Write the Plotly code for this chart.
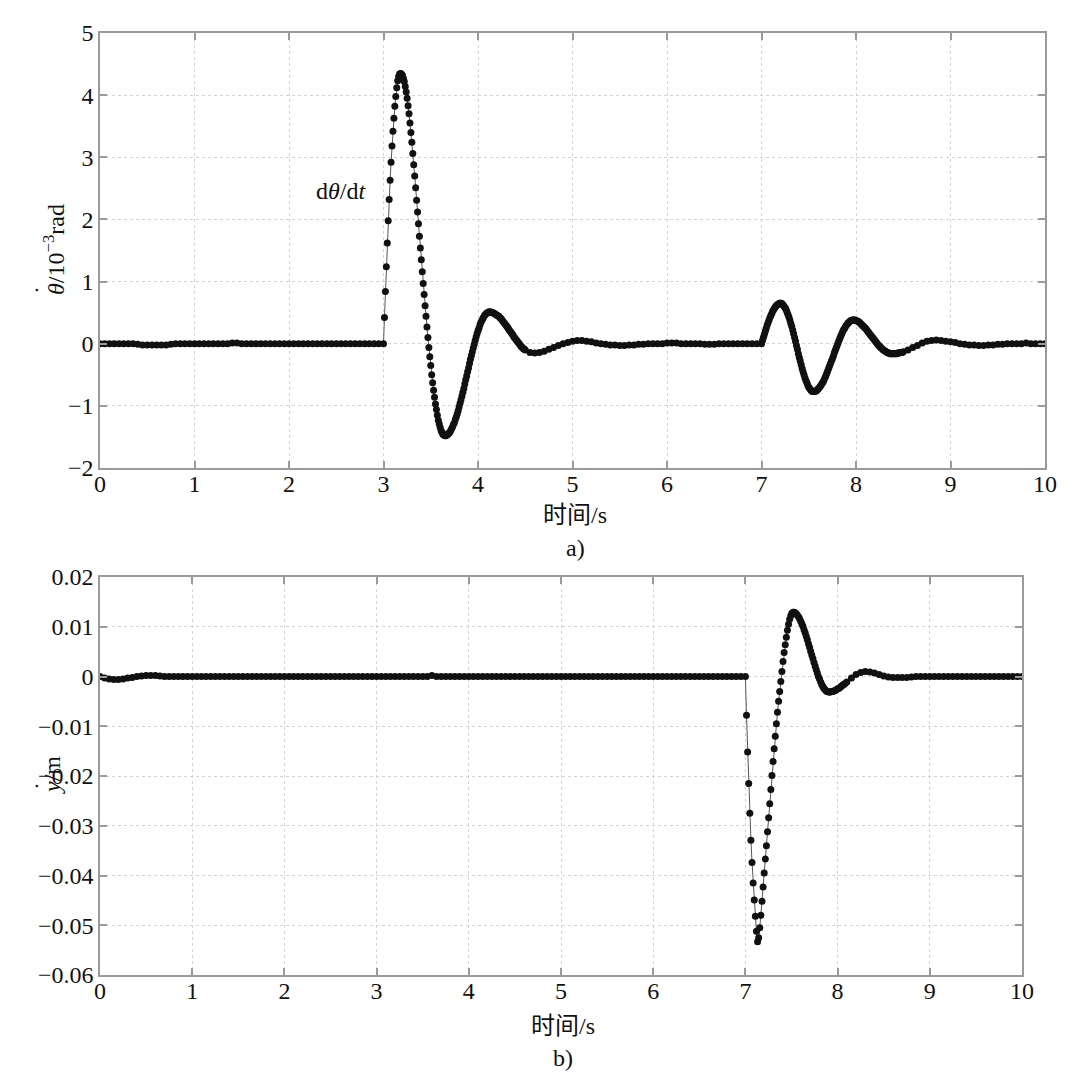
import plotly.graph_objects as go

# ---------------- data: theta_dot (10^-3 rad) ----------------
# each segment: (start time, step, values)
theta_flat1_t0, theta_flat1_dt = 0.00, 0.05
theta_flat1 = [0, 0, 0, 0, 0, 0, 0, 0, -0.01, -0.02,
               -0.02, -0.02, -0.02, -0.02, -0.02, -0.01, 0, 0, 0, 0,
               0, 0, 0, 0, 0, 0, 0, 0, 0.01, 0.01,
               0, 0, 0, 0, 0, 0, 0, 0, 0, 0,
               0, 0, 0, 0, 0, 0, 0, 0, 0, 0,
               0, 0, 0, 0, 0, 0, 0, 0, 0, 0]

theta_pulse1_t0, theta_pulse1_dt = 3.00, 0.01
theta_pulse1 = [0,
                0.42, 0.84, 1.24, 1.62, 1.98, 2.32, 2.63, 2.92, 3.18, 3.42,
                3.63, 3.82, 3.98, 4.12, 4.23, 4.30, 4.34, 4.35,
                4.34, 4.32, 4.27, 4.22, 4.14, 4.05, 3.95, 3.83, 3.70, 3.55,
                3.40, 3.24, 3.06, 2.88, 2.70, 2.51, 2.31, 2.12,
                1.93, 1.73, 1.54, 1.35, 1.16, 0.97, 0.79, 0.61, 0.44, 0.27,
                0.10, -0.06, -0.21, -0.35, -0.50, -0.63, -0.75, -0.86, -0.97, -1.06,
                -1.15, -1.23, -1.29, -1.35, -1.40, -1.43, -1.46, -1.47, -1.48,
                -1.48, -1.47, -1.46, -1.44, -1.43, -1.40, -1.37, -1.34, -1.30, -1.27,
                -1.22, -1.18, -1.13, -1.08, -1.02, -0.96, -0.90, -0.84, -0.78, -0.72,
                -0.65, -0.58, -0.52, -0.45, -0.39, -0.32, -0.25, -0.19, -0.13, -0.07,
                -0.01, 0.05, 0.11, 0.16, 0.21, 0.25, 0.30, 0.34, 0.37, 0.40,
                0.43, 0.46, 0.47, 0.49, 0.50, 0.51, 0.51,
                0.51, 0.51, 0.50, 0.50, 0.49, 0.48, 0.47, 0.46, 0.45, 0.44,
                0.42, 0.41, 0.39, 0.37, 0.35, 0.33, 0.31, 0.29, 0.27, 0.25,
                0.22, 0.20, 0.18, 0.16, 0.14, 0.11, 0.09, 0.07, 0.05, 0.03,
                0.01, -0.01, -0.03, -0.05, -0.06, -0.08, -0.09, -0.10]

theta_tail1_t0, theta_tail1_dt = 4.55, 0.05
theta_tail1 = [-0.14, -0.15, -0.14, -0.12, -0.09, -0.06, -0.03, 0.00, 0.02, 0.04,
               0.05, 0.05, 0.04, 0.03, 0.01, 0.00, -0.01, -0.02, -0.02, -0.03,
               -0.03, -0.02, -0.02, -0.01, -0.01, 0, 0, 0, 0, 0.01,
               0.01, 0.01, 0, 0, 0, 0, 0, -0.01, -0.01, -0.01,
               0, 0, 0, 0, 0, 0, 0, 0, 0]

theta_pulse2_t0, theta_pulse2_dt = 7.00, 0.01
theta_pulse2 = [0,
                0.05, 0.10, 0.15, 0.20, 0.25, 0.30, 0.34, 0.38, 0.42, 0.46,
                0.49, 0.53, 0.55, 0.58, 0.60, 0.62, 0.63, 0.64, 0.65, 0.65,
                0.65, 0.64, 0.62, 0.60, 0.58, 0.55, 0.51, 0.47, 0.43, 0.38,
                0.33, 0.28, 0.22, 0.16, 0.10, 0.04, -0.03, -0.09, -0.16, -0.22,
                -0.28, -0.34, -0.40, -0.45, -0.50, -0.55, -0.59, -0.63, -0.67, -0.70,
                -0.72, -0.74, -0.76, -0.77, -0.77,
                -0.77, -0.76, -0.76, -0.74, -0.73, -0.71, -0.69, -0.67, -0.64, -0.62,
                -0.59, -0.55, -0.52, -0.48, -0.44, -0.40, -0.36, -0.32, -0.28, -0.24,
                -0.20, -0.15, -0.11, -0.07, -0.03, 0.01, 0.05, 0.09, 0.13, 0.16,
                0.20, 0.23, 0.25, 0.28, 0.30, 0.32, 0.34, 0.35, 0.37, 0.37,
                0.38, 0.38,
                0.38, 0.38, 0.37, 0.37, 0.36, 0.35, 0.34, 0.32, 0.31, 0.29,
                0.28, 0.26, 0.25, 0.23, 0.21, 0.19, 0.17, 0.15, 0.13, 0.11,
                0.09, 0.07, 0.05, 0.03, 0.01, -0.01, -0.03, -0.04, -0.06, -0.07,
                -0.09, -0.10, -0.11, -0.12, -0.13, -0.14, -0.15, -0.15, -0.16, -0.16,
                -0.16, -0.16, -0.16,
                -0.16, -0.16, -0.16, -0.15, -0.15, -0.15, -0.14, -0.14, -0.14, -0.13]

theta_tail2_t0, theta_tail2_dt = 8.55, 0.05
theta_tail2 = [-0.10, -0.06, -0.03, 0.01, 0.04, 0.05, 0.06, 0.05, 0.04, 0.03,
               0.02, 0.00, -0.01, -0.02, -0.02, -0.03, -0.03, -0.02, -0.02, -0.01,
               -0.01, 0.00, 0.00, 0.00, 0.00, 0.01, 0.00, 0.00, 0.00, 0.00]

# ---------------- data: y_dot (m) ----------------
ydot_flat1_t0, ydot_flat1_dt = 0.00, 0.05
ydot_flat1 = [0, -0.0003, -0.0005, -0.0006, -0.0006, -0.0005, -0.0003, -0.0002, 0.0, 0.0001,
              0.0002, 0.0002, 0.0002, 0.0001, 0.0,
              0, 0, 0, 0, 0, 0, 0, 0, 0, 0, 0, 0, 0, 0, 0, 0, 0, 0, 0, 0, 0, 0, 0, 0, 0,
              0, 0, 0, 0, 0, 0, 0, 0, 0, 0, 0, 0, 0, 0, 0, 0, 0, 0, 0, 0, 0, 0, 0, 0, 0,
              0, 0, 0, 0, 0, 0, 0, 0.0002, 0, 0, 0, 0, 0, 0, 0, 0, 0, 0, 0, 0, 0, 0, 0, 0, 0,
              0, 0, 0, 0, 0, 0, 0, 0, 0, 0, 0, 0, 0, 0, 0, 0, 0, 0, 0, 0, 0, 0, 0, 0, 0,
              0, 0, 0, 0, 0, 0, 0, 0, 0, 0, 0, 0, 0, 0, 0, 0, 0, 0, 0, 0, 0, 0, 0, 0, 0]

ydot_pulse_t0, ydot_pulse_dt = 7.00, 0.012
ydot_pulse = [0, -0.0078, -0.0152, -0.0215, -0.0275, -0.0329, -0.0374, -0.0415, -0.0449, -0.0482,
              -0.0512, -0.0533,
              -0.0525, -0.0505, -0.0480, -0.0452, -0.0423, -0.0395, -0.0367, -0.0340, -0.0312, -0.0284,
              -0.0256, -0.0227, -0.0199, -0.0171, -0.0145, -0.0120, -0.0095, -0.0072, -0.0050, -0.0030,
              -0.0010, 0.0010, 0.0030, 0.0048, 0.0064, 0.0079, 0.0093, 0.0105, 0.0115, 0.0122,
              0.0127, 0.0129,
              0.0129, 0.0128, 0.0126, 0.0123, 0.0120, 0.0116, 0.0111, 0.0106, 0.0101, 0.0094,
              0.0088, 0.0081, 0.0074, 0.0066, 0.0059, 0.0051, 0.0043, 0.0036, 0.0028, 0.0021,
              0.0014, 0.0007, 0.0000, -0.0005, -0.0011, -0.0016, -0.0020, -0.0024, -0.0026, -0.0029,
              -0.0030, -0.0031,
              -0.0031, -0.0031, -0.0030, -0.0030, -0.0029, -0.0028, -0.0027, -0.0025, -0.0024, -0.0023,
              -0.0021, -0.0019, -0.0017, -0.0016, -0.0014]

ydot_tail_t0, ydot_tail_dt = 8.10, 0.05
ydot_tail = [-0.0011, -0.0003, 0.0004, 0.0008, 0.0010, 0.0009, 0.0007, 0.0004, 0.0001, -0.0001,
             -0.0002, -0.0002, -0.0002, -0.0002, -0.0001,
             0, 0, 0, 0, 0, 0, 0, 0, 0, 0, 0, 0, 0, 0, 0, 0, 0, 0, 0, 0, 0, 0, 0, 0]

x_ticks = [0, 1, 2, 3, 4, 5, 6, 7, 8, 9, 10]
theta_ticks = [-2, -1, 0, 1, 2, 3, 4, 5]
ydot_ticks = [-0.06, -0.05, -0.04, -0.03, -0.02, -0.01, 0, 0.01, 0.02]


def build(segments):
    ts, vs = [], []
    for t0, dt, vals in segments:
        for i, v in enumerate(vals):
            ts.append(round(t0 + i * dt, 4))
            vs.append(v)
    return ts, vs


t_theta, v_theta = build([
    (theta_flat1_t0, theta_flat1_dt, theta_flat1),
    (theta_pulse1_t0, theta_pulse1_dt, theta_pulse1),
    (theta_tail1_t0, theta_tail1_dt, theta_tail1),
    (theta_pulse2_t0, theta_pulse2_dt, theta_pulse2),
    (theta_tail2_t0, theta_tail2_dt, theta_tail2),
])
t_ydot, v_ydot = build([
    (ydot_flat1_t0, ydot_flat1_dt, ydot_flat1),
    (ydot_pulse_t0, ydot_pulse_dt, ydot_pulse),
    (ydot_tail_t0, ydot_tail_dt, ydot_tail),
])

W, H = 1080, 1076
SERIF = "Liberation Serif, Times New Roman, Noto Sans CJK SC, serif"
CJK = "Liberation Serif, Noto Sans CJK SC, serif"
FS = 24
AXC = "#9a9a9a"
GRIDC = "#d4d4d4"
TXT = "#111111"

marker = dict(size=7, color="#111111")
line = dict(color="#555555", width=1)

fig = go.Figure()
fig.add_trace(go.Scatter(x=t_theta, y=v_theta, mode="lines+markers",
                         marker=marker, line=line, xaxis="x", yaxis="y",
                         showlegend=False, hoverinfo="skip"))
fig.add_trace(go.Scatter(x=t_ydot, y=v_ydot, mode="lines+markers",
                         marker=marker, line=line, xaxis="x2", yaxis="y2",
                         showlegend=False, hoverinfo="skip"))


def px_x(p):
    return p / W


def px_y(p):
    return 1 - p / H


axis_common = dict(showline=True, linecolor=AXC, linewidth=1.5, mirror="ticks",
                   ticks="inside", ticklen=7, tickcolor=AXC, tickwidth=1.5,
                   showgrid=True, gridcolor=GRIDC, griddash="dot", gridwidth=1,
                   zeroline=False, automargin=False,
                   tickfont=dict(family=SERIF, size=FS, color=TXT))

fig.update_layout(
    width=W, height=H,
    margin=dict(l=0, r=0, t=0, b=0),
    paper_bgcolor="white", plot_bgcolor="white",
    xaxis=dict(domain=[px_x(100), px_x(1045)], range=[0, 10], tickvals=x_ticks,
               anchor="y", ticklabelstandoff=-7, **axis_common),
    yaxis=dict(domain=[px_y(468), px_y(33)], range=[-2, 5], tickvals=theta_ticks,
               anchor="x", ticklabelstandoff=0, **axis_common),
    xaxis2=dict(domain=[px_x(100), px_x(1022)], range=[0, 10], tickvals=x_ticks,
                anchor="y2", ticklabelstandoff=-7, **axis_common),
    yaxis2=dict(domain=[px_y(975), px_y(577)], range=[-0.06, 0.02], tickvals=ydot_ticks,
                anchor="x2", ticklabelstandoff=0, **axis_common),
)


def note(text, xp, yp, size=FS, family=SERIF, angle=0):
    return dict(text=text, x=px_x(xp), y=px_y(yp), xref="paper", yref="paper",
                xanchor="center", yanchor="middle", textangle=angle, showarrow=False,
                font=dict(family=family, size=size, color=TXT))


ann = [
    note("时间/s", 575, 515, family=CJK),
    note("a)", 575, 548),
    note("时间/s", 563, 1026, family=CJK),
    note("b)", 563, 1058),
    note("<i>θ</i>/10<sup>−3</sup>rad", 54, 250, angle=-90),
    note("˙", 43, 290, size=FS, angle=-90),
    note("<i>y</i>/m", 52, 775, angle=-90),
    note("˙", 43, 786, size=FS, angle=-90),
    dict(text="d<i>θ</i>/d<i>t</i>", x=2.55, y=2.45, xref="x", yref="y",
         xanchor="center", yanchor="middle", showarrow=False,
         font=dict(family=SERIF, size=FS, color=TXT)),
]
fig.update_layout(annotations=ann)

fig.write_html("out.html")
